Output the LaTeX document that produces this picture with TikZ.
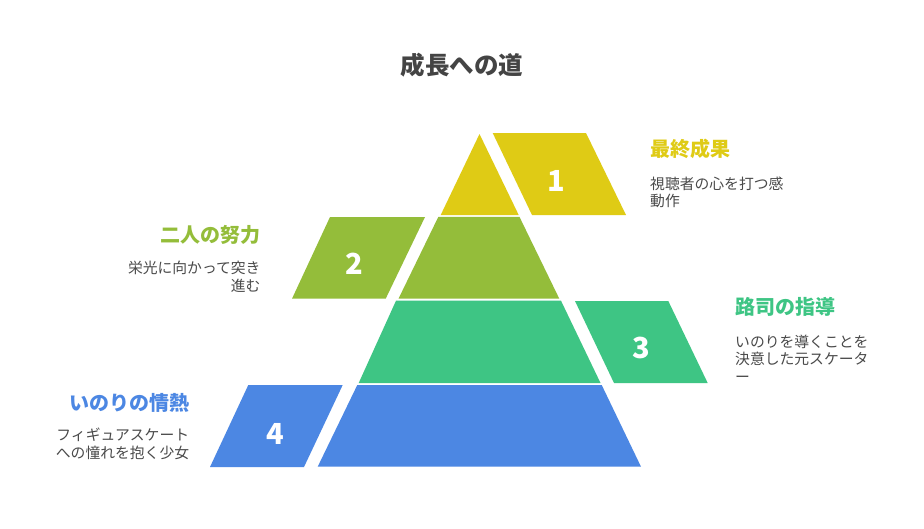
\documentclass[tikz,border=0pt]{standalone}
\usepackage{fontspec}
\setmainfont{Noto Sans CJK JP}
\definecolor{cyel}{HTML}{DFCB15}
\definecolor{colv}{HTML}{94BD3A}
\definecolor{cgrn}{HTML}{3EC584}
\definecolor{cblu}{HTML}{4C87E3}
\definecolor{ctitle}{HTML}{444444}
\definecolor{cdesc}{HTML}{4A4A4A}
\tikzset{
  numlbl/.style={text=white, inner sep=0pt, font=\bfseries\fontsize{29}{31}\selectfont},
  headlbl/.style={inner sep=0pt, font=\bfseries\fontsize{20}{24}\selectfont},
  desclbl/.style={inner sep=0pt, text=cdesc, font=\fontsize{14.8}{17.7}\selectfont},
}
\begin{document}
\begin{tikzpicture}[x=1pt,y=-1pt]
\useasboundingbox (0,0) rectangle (924,528);
\fill[white] (0,0) rectangle (924,528);
% title
\node[inner sep=0pt, text=ctitle, font=\bfseries\fontsize{24.5}{28}\selectfont] (title) at (462,65) {成長への道};
% pyramid tiers
\fill[cyel] (479.5,134) -- (518.7,215) -- (440.7,215) -- cycle;
\fill[colv] (438.3,216.9) -- (519.5,216.9) -- (559.3,298.7) -- (398.5,298.7) -- cycle;
\fill[cgrn] (396,300.7) -- (561,300.7) -- (600.5,383) -- (358.7,383) -- cycle;
\fill[cblu] (357.3,385) -- (601.7,385) -- (641,466.7) -- (317.7,466.7) -- cycle;
% side tiles
\fill[cyel] (492.7,133) -- (586,133) -- (626,215) -- (532,215) -- cycle;
\fill[colv] (330,217) -- (425,217) -- (385.7,298.7) -- (292,298.7) -- cycle;
\fill[cgrn] (575,301) -- (668.3,301) -- (707.7,383) -- (614,383) -- cycle;
\fill[cblu] (248.3,385) -- (342.7,385) -- (304,467) -- (210,467) -- cycle;
% numbers
\node[numlbl] (n1) at (556.5,180.5) {1};
\node[numlbl] (n2) at (354,264) {2};
\node[numlbl] (n3) at (641.5,347.7) {3};
\node[numlbl] (n4) at (275.7,434) {4};
% labels
\node[headlbl, text=cyel, anchor=west] (h1) at (650,149) {最終成果};
\node[desclbl, anchor=north west, align=left] (d1) at (650,176.5) {視聴者の心を打つ感\\動作};
\node[headlbl, text=colv, anchor=east] (h2) at (260.7,235) {二人の努力};
\node[desclbl, anchor=north east, align=right] (d2) at (260.7,260.8) {栄光に向かって突き\\進む};
\node[headlbl, text=cgrn, anchor=west] (h3) at (735,306.7) {路司の指導};
\node[desclbl, anchor=north west, align=left] (d3) at (735,334.5) {いのりを導くことを\\決意した元スケータ\\ー};
\node[headlbl, text=cblu, anchor=east] (h4) at (189.3,402.7) {いのりの情熱};
\node[desclbl, anchor=north east, align=right] (d4) at (189.3,427.5) {フィギュアスケート\\への憧れを抱く少女};
\end{tikzpicture}
\end{document}
